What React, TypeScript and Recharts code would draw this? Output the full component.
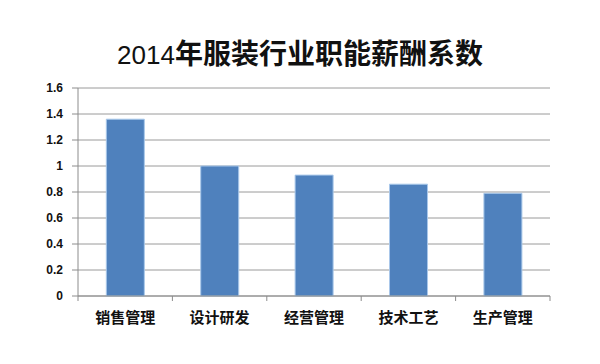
import React from 'react';
import { BarChart, Bar, XAxis, YAxis, CartesianGrid } from 'recharts';

const categories = ['销售管理', '设计研发', '经营管理', '技术工艺', '生产管理'];
const coefficients = [1.36, 1.0, 0.93, 0.86, 0.79];
const yTicks = [0, 0.2, 0.4, 0.6, 0.8, 1, 1.2, 1.4, 1.6];
const titleYear = '2014';
const titleText = '年服装行业职能薪酬系数';

const data = categories.map((name, i) => ({ name, value: coefficients[i] }));

const CHART_W = 600;
const CHART_H = 364;
const MARGIN = { top: 88, right: 50, left: 30, bottom: 38 };
const Y_WIDTH = 48;
const BAND = (CHART_W - MARGIN.left - MARGIN.right - Y_WIDTH) / categories.length;

const XTick = (props: any) => {
  const { x, y, payload, index } = props;
  const half = BAND / 2;
  return (
    <g>
      <line x1={x - half} y1={y - 8} x2={x - half} y2={y - 3} stroke="#8c8c8c" />
      {index === categories.length - 1 && (
        <line x1={x + half} y1={y - 8} x2={x + half} y2={y - 3} stroke="#8c8c8c" />
      )}
      <text
        x={x}
        y={y + 19}
        textAnchor="middle"
        fill="#111"
        fontSize={15}
        fontWeight="bold"
        fontFamily="'Noto Sans CJK SC', sans-serif"
      >
        {payload.value}
      </text>
    </g>
  );
};

export default function App() {
  return (
    <div style={{ position: 'absolute', left: 0, top: 0, width: CHART_W, height: CHART_H, background: '#fff' }}>
      <div
        style={{
          position: 'absolute',
          left: 0,
          width: CHART_W,
          top: 32,
          textAlign: 'center',
          lineHeight: '40px',
          color: '#111',
          whiteSpace: 'nowrap',
        }}
      >
        <span style={{ fontFamily: "'Liberation Sans', Arial, sans-serif", fontSize: 26 }}>{titleYear}</span>
        <span style={{ fontFamily: "'Noto Sans CJK SC', sans-serif", fontSize: 28, fontWeight: 'bold' }}>{titleText}</span>
      </div>
      <BarChart width={CHART_W} height={CHART_H} data={data} margin={MARGIN} barCategoryGap="30%">
        <CartesianGrid vertical={false} stroke="#9a9a9a" />
        <XAxis
          dataKey="name"
          axisLine={{ stroke: '#8c8c8c' }}
          tickLine={false}
          tick={<XTick />}
          interval={0}
          height={30}
        />
        <YAxis
          width={Y_WIDTH}
          domain={[0, 1.6]}
          ticks={yTicks}
          axisLine={{ stroke: '#8c8c8c' }}
          tickLine={{ stroke: '#8c8c8c' }}
          tickSize={6}
          tickMargin={9}
          tick={{ fill: '#111', fontSize: 12, fontWeight: 'bold', fontFamily: "'Liberation Sans', Arial, sans-serif" }}
        />
        <Bar dataKey="value" fill="#4f81bd" stroke="#a9c8ea" strokeWidth={1} isAnimationActive={false} />
      </BarChart>
    </div>
  );
}
